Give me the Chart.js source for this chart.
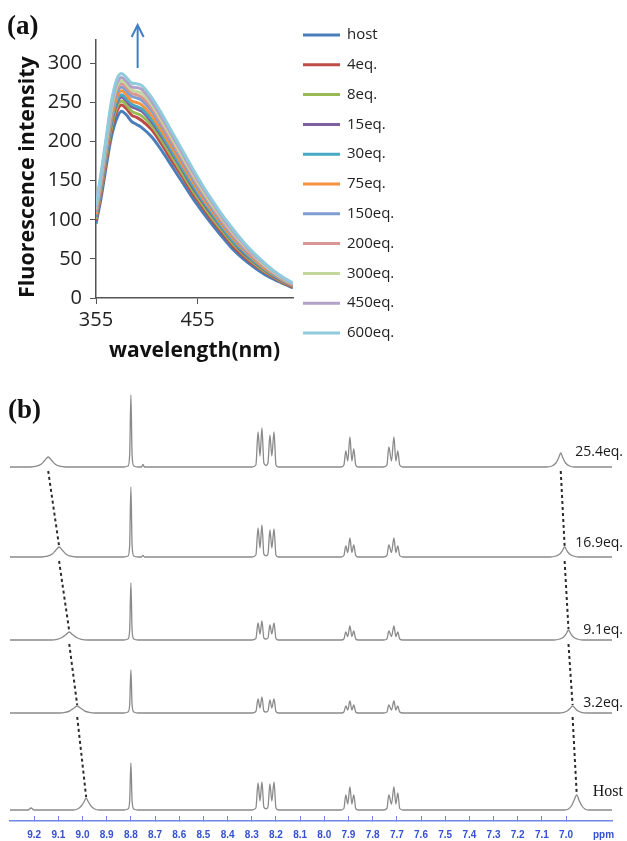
<!DOCTYPE html>
<html><head><meta charset="utf-8">
<script src="https://cdn.jsdelivr.net/npm/chart.js@4/dist/chart.umd.min.js"></script>
<style>
html,body{margin:0;padding:0;background:#fff;width:627px;height:841px;overflow:hidden;position:relative}
#ca{position:absolute;left:0;top:0}
#cb{position:absolute;left:0;top:370px}
.lab{position:absolute;font-family:'Liberation Serif',serif;font-weight:bold;font-size:27px;line-height:27px;color:#111}
</style></head><body>
<canvas id="ca" width="421" height="370"></canvas>
<canvas id="cb" width="627" height="471"></canvas>
<div class="lab" style="left:7px;top:12px">(a)</div>
<div class="lab" style="left:8px;top:396px">(b)</div>
<script>
// ---------- Panel (a): fluorescence titration ----------
const wavelengths = [355,360,365,370,375,380,385,390,395,400,410,420,430,440,450,460,470,480,490,500,510,520,530,540,549];
const seriesNames = ['host','4eq.','8eq.','15eq.','30eq.','75eq.','150eq.','200eq.','300eq.','450eq.','600eq.'];
const hostI  = [95,128,168,205,228,239,234,226,222,218,206,188,168,148,128,110,93,77,62,50,40,31,24,18,13];
const eq4I   = [99,133,174,213,237,247,242,234,231,227,215,196,175,155,134,116,98,82,66,54,43,34,26,19,14];
const eq8I   = [101,137,178,217,242,252,247,239,236,233,220,201,180,159,138,119,101,85,69,56,45,35,27,20,15];
const eq15I  = [104,140,182,222,247,257,252,245,242,239,225,206,185,164,142,123,105,88,72,58,47,37,28,21,15];
const eq30I  = [105,142,184,225,250,260,255,248,245,242,228,209,187,166,145,125,107,89,73,60,48,38,29,22,16];
const eq75I  = [107,145,188,229,255,265,260,252,250,247,233,213,192,170,149,128,110,92,76,62,50,39,30,22,16];
const eq150I = [110,149,192,234,261,270,265,258,256,253,239,219,197,175,153,132,113,95,79,64,52,41,31,23,17];
const eq200I = [112,151,195,238,265,274,269,262,260,257,243,222,200,178,156,135,116,97,81,66,53,42,32,24,17];
const eq300I = [114,154,198,241,269,278,273,266,264,262,247,226,204,181,159,138,118,100,83,68,55,43,33,24,18];
const eq450I = [116,157,201,246,273,282,277,270,269,267,251,230,208,185,162,141,121,102,85,70,56,45,34,25,18];
const eq600I = [118,160,205,250,278,287,282,275,274,272,256,235,212,189,166,144,124,105,88,72,58,46,35,26,19];
const seriesValues = [hostI,eq4I,eq8I,eq15I,eq30I,eq75I,eq150I,eq200I,eq300I,eq450I,eq600I];
const wavelengthTicks = [355,455];

const seriesColors = ['#4A7EBB','#BE4B48','#98B954','#7D60A0','#46AAC5','#F69240','#7F9FD3','#D99694','#C3D69B','#B3A2C7','#8FCBDC'];

const arrowPlugin = {
  id:'arrowA',
  afterDraw(chart){
    const ctx = chart.ctx, x = chart.scales.x.getPixelForValue(396);
    ctx.save();
    ctx.strokeStyle = '#3F7FC8'; ctx.lineWidth = 2;
    ctx.beginPath(); ctx.moveTo(x, 68); ctx.lineTo(x, 27); ctx.stroke();
    ctx.beginPath(); ctx.moveTo(x-6, 37); ctx.lineTo(x, 25); ctx.lineTo(x+6, 37); ctx.stroke();
    ctx.restore();
  }
};

// legend drawn beside the plot from the chart's own datasets
const sideLegend = {
  id:'sideLegend',
  afterDraw(chart){
    const ctx = chart.ctx, x0 = chart.chartArea.right + 10;
    ctx.save();
    ctx.font = '15px "Open Sans"'; ctx.textBaseline = 'middle'; ctx.textAlign = 'left'; ctx.lineCap = 'butt';
    chart.data.datasets.forEach((ds,i)=>{
      const y = 35 + i * 29.8;
      ctx.strokeStyle = ds.borderColor; ctx.lineWidth = 3;
      ctx.beginPath(); ctx.moveTo(x0, y); ctx.lineTo(x0 + 37, y); ctx.stroke();
      ctx.fillStyle = '#222';
      ctx.fillText(ds.label, x0 + 44, y);
    });
    ctx.restore();
  }
};

new Chart(document.getElementById('ca'), {
  type:'line',
  data:{
    datasets: seriesNames.map((n,i)=>({
      label:n,
      data: wavelengths.map((w,j)=>({x:w,y:seriesValues[i][j]})),
      borderColor: seriesColors[i], backgroundColor: seriesColors[i],
      borderWidth: 3, pointRadius:0, cubicInterpolationMode:'monotone',
      order: seriesNames.length - i
    }))
  },
  options:{
    responsive:false, animation:false,
    layout:{padding:{top:40,right:128,bottom:0,left:0}},
    plugins:{legend:{display:false},tooltip:{enabled:false}},
    scales:{
      x:{type:'linear',min:355,max:549,
        afterBuildTicks:s=>{s.ticks = wavelengthTicks.map(v=>({value:v}));},
        afterFit:s=>{s.height = 72;},
        grid:{drawOnChartArea:false,drawTicks:true,tickLength:6,color:'#555'},
        border:{color:'#555',width:1.5},
        ticks:{padding:4,autoSkip:false,maxRotation:0,font:{family:'Open Sans',size:20},color:'#222'},
        title:{display:true,text:'wavelength(nm)',color:'#111',font:{family:'Open Sans',size:21,weight:'bold'},padding:{top:0,bottom:6}}
      },
      y:{type:'linear',min:0,max:330,
        afterFit:s=>{s.width = 96;},
        grid:{drawOnChartArea:false,drawTicks:true,tickLength:6,color:'#555'},
        border:{color:'#555',width:1.5},
        ticks:{stepSize:50,includeBounds:false,padding:8,font:{family:'Open Sans',size:20},color:'#222'},
        title:{display:true,align:'start',text:'Fluorescence intensity',color:'#111',font:{family:'Open Sans',size:21.5,weight:'bold'},padding:{top:15,bottom:0}}
      }
    }
  },
  plugins:[arrowPlugin, sideLegend]
});

// ---------- Panel (b): 1H NMR titration ----------
const nmrTraceNames = ['25.4eq.','16.9eq.','9.1eq.','3.2eq.','Host'];
const trace25 = [[9.30,0],[9.215,0],[9.19,0.8],[9.17,3],[9.155,7],[9.142,10],[9.129,7],[9.114,3],[9.095,0.8],[9.07,0],
  [8.83,0],[8.812,1],[8.805,12],[8.80,72],[8.795,12],[8.788,1],[8.77,0],[8.756,0],[8.75,2.5],[8.744,0],
  [8.30,0],[8.283,2],[8.274,35],[8.266,11],[8.258,39],[8.25,4],[8.241,1.5],[8.233,4],[8.225,32],[8.217,11],[8.208,35],[8.20,2],[8.19,0],
  [7.93,0],[7.919,2],[7.911,16],[7.903,6],[7.894,30],[7.886,6],[7.878,18],[7.87,2],[7.86,0],
  [7.755,0],[7.741,2],[7.733,20],[7.722,6],[7.712,30],[7.704,6],[7.696,16],[7.688,2],[7.675,0],
  [7.08,0],[7.058,1],[7.042,4],[7.031,9],[7.022,14],[7.013,9],[7.002,4],[6.986,1],[6.965,0],[6.81,0]];
const trace16 = [[9.30,0],[9.17,0],[9.145,0.8],[9.125,3],[9.11,7],[9.097,10],[9.084,7],[9.069,3],[9.05,0.8],[9.025,0],
  [8.83,0],[8.812,1],[8.805,12],[8.80,70],[8.795,12],[8.788,1],[8.77,0],[8.756,0],[8.75,1.5],[8.744,0],
  [8.30,0],[8.283,2],[8.274,29],[8.266,9],[8.258,32],[8.25,3],[8.241,1.2],[8.233,3],[8.225,27],[8.217,9],[8.208,28],[8.20,2],[8.19,0],
  [7.93,0],[7.919,1.5],[7.911,11],[7.903,4.5],[7.894,19],[7.886,4.5],[7.878,12],[7.87,1.5],[7.86,0],
  [7.755,0],[7.741,1.5],[7.733,12],[7.722,4.5],[7.712,19],[7.704,4.5],[7.696,11],[7.688,1.5],[7.675,0],
  [7.065,0],[7.042,1],[7.026,3],[7.015,6.5],[7.006,10],[6.997,6.5],[6.986,3],[6.97,1],[6.948,0],[6.81,0]];
const trace9 = [[9.30,0],[9.13,0],[9.105,0.7],[9.085,2.5],[9.068,5.5],[9.055,8],[9.042,5.5],[9.025,2.5],[9.005,0.7],[8.98,0],
  [8.83,0],[8.812,1],[8.805,10],[8.80,57],[8.795,10],[8.788,1],[8.77,0],
  [8.30,0],[8.283,1.5],[8.274,17],[8.266,6],[8.258,19],[8.25,2],[8.241,1],[8.233,2],[8.225,15],[8.217,6],[8.208,17],[8.20,1.5],[8.19,0],
  [7.93,0],[7.919,1],[7.911,8],[7.903,3.5],[7.894,14],[7.886,3.5],[7.878,9],[7.87,1],[7.86,0],
  [7.755,0],[7.741,1],[7.733,9],[7.722,3.5],[7.712,14],[7.704,3.5],[7.696,8],[7.688,1],[7.675,0],
  [7.05,0],[7.026,1],[7.01,3],[6.999,6.5],[6.99,10],[6.981,6.5],[6.97,3],[6.954,1],[6.932,0],[6.81,0]];
const trace3 = [[9.30,0],[9.095,0],[9.072,0.6],[9.052,2.2],[9.035,5],[9.022,7],[9.009,5],[8.992,2.2],[8.972,0.6],[8.95,0],
  [8.83,0],[8.812,1],[8.805,8],[8.80,43],[8.795,8],[8.788,1],[8.77,0],
  [8.30,0],[8.283,1.5],[8.274,14],[8.266,5],[8.258,16],[8.25,2],[8.241,1],[8.233,2],[8.225,13],[8.217,5],[8.208,14],[8.20,1.5],[8.19,0],
  [7.93,0],[7.919,1],[7.911,7],[7.903,3],[7.894,12],[7.886,3],[7.878,8],[7.87,1],[7.86,0],
  [7.755,0],[7.741,1],[7.733,8],[7.722,3],[7.712,12],[7.704,3],[7.696,7],[7.688,1],[7.675,0],
  [7.03,0],[7.009,0.7],[6.994,2.2],[6.983,4.8],[6.973,7],[6.963,4.8],[6.952,2.2],[6.937,0.7],[6.915,0],[6.81,0]];
const traceHost = [[9.30,0],[9.225,0],[9.213,2],[9.20,0],
  [9.04,0],[9.02,1],[9.005,4],[8.994,8],[8.985,12],[8.976,8],[8.965,4],[8.95,1],[8.93,0],
  [8.83,0],[8.812,1],[8.805,9],[8.80,47],[8.795,9],[8.788,1],[8.77,0],
  [8.30,0],[8.283,2],[8.274,27],[8.266,9],[8.258,28],[8.25,3],[8.241,1.2],[8.233,3],[8.225,26],[8.217,9],[8.208,28],[8.20,2],[8.19,0],
  [7.93,0],[7.919,1.5],[7.911,15],[7.903,6],[7.894,23],[7.886,6],[7.878,15],[7.87,1.5],[7.86,0],
  [7.755,0],[7.741,1.5],[7.733,15],[7.722,6],[7.712,23],[7.704,6],[7.696,17],[7.688,1.5],[7.675,0],
  [7.005,0],[6.99,1],[6.978,4],[6.968,9],[6.956,15],[6.945,9],[6.934,4],[6.922,1],[6.905,0],[6.81,0]];
const nmrTraces = [trace25,trace16,trace9,trace3,traceHost];
// chemical shifts (ppm) and heights of the two peaks that move with added guest
const leftShiftPpm = [9.142,9.097,9.055,9.022,8.985];
const leftShiftHeight = [10,10,8,7,12];
const rightShiftPpm = [7.022,7.006,6.99,6.973,6.956];
const rightShiftHeight = [14,10,10,7,15];
const nmrTicks = [9.2,9.1,9.0,8.9,8.8,8.7,8.6,8.5,8.4,8.3,8.2,8.1,8.0,7.9,7.8,7.7,7.6,7.5,7.4,7.3,7.2,7.1,7.0];

const axisIds = ['y1','y2','y3','y4','y5'];
const labelLift = [15,14,10,10,18];

const nmrDecor = {
  id:'nmrDecor',
  afterDatasetsDraw(chart){
    const ctx = chart.ctx, xs = chart.scales.x;
    const ys = axisIds.map(id=>chart.scales[id]);
    ctx.save();
    ctx.strokeStyle = '#2b2b2b'; ctx.lineWidth = 2; ctx.setLineDash([3,3]);
    [[leftShiftPpm,leftShiftHeight],[rightShiftPpm,rightShiftHeight]].forEach(([pp,hh])=>{
      for(let k=0;k<pp.length-1;k++){
        ctx.beginPath();
        ctx.moveTo(xs.getPixelForValue(pp[k]), ys[k].getPixelForValue(0)+4);
        ctx.lineTo(xs.getPixelForValue(pp[k+1]), ys[k+1].getPixelForValue(hh[k+1])-1);
        ctx.stroke();
      }
    });
    ctx.setLineDash([]);
    ctx.fillStyle = '#1a1a1a'; ctx.textAlign = 'right'; ctx.textBaseline = 'middle';
    nmrTraceNames.forEach((n,k)=>{
      ctx.font = k===4 ? '16px "Liberation Serif"' : '14px "Open Sans"';
      ctx.fillText(n, chart.chartArea.right + 11, ys[k].getPixelForValue(labelLift[k]));
    });
    ctx.font = 'bold 10px "Liberation Sans"'; ctx.fillStyle = '#3550D0'; ctx.textAlign = 'center';
    ctx.fillText('ppm', xs.getPixelForValue(6.845), xs.top + 14);
    ctx.restore();
  }
};

const bandRanges = [[-5.2,82],[-2.4,84.8],[-6.6,80.6],[-20.8,66.4],[-11,76.2]];
const nmrScales = {
  x:{type:'linear',reverse:true,min:6.81,max:9.30,
    afterBuildTicks:s=>{s.ticks = nmrTicks.map(v=>({value:v}));},
    afterFit:s=>{s.height = 20;},
    grid:{drawOnChartArea:false,drawTicks:true,tickLength:-5,color:'#6F86E6',lineWidth:1},
    border:{color:'#6F86E6',width:1.5},
    ticks:{padding:13,autoSkip:false,maxRotation:0,font:{family:'Liberation Sans',size:10,weight:'bold'},color:'#3550D0',
      callback:v=>Number(v).toFixed(1)}
  }
};
// left-side boxes are laid out in reverse insertion order, so add the bottom trace's axis first
for (let k = axisIds.length - 1; k >= 0; k--) {
  nmrScales[axisIds[k]] = {type:'linear',display:false,position:'left',stack:'nmr',stackWeight:1,
    min:bandRanges[k][0],max:bandRanges[k][1]};
}

new Chart(document.getElementById('cb'), {
  type:'line',
  data:{
    datasets: nmrTraces.map((t,k)=>({
      label: nmrTraceNames[k],
      data: t.map(p=>({x:p[0],y:p[1]})),
      yAxisID: axisIds[k],
      borderColor:'#8A8A8A', borderWidth:1.3, pointRadius:0,
      cubicInterpolationMode:'monotone'
    }))
  },
  options:{
    responsive:false, animation:false,
    layout:{padding:{top:15,right:15,bottom:0,left:10}},
    plugins:{legend:{display:false},tooltip:{enabled:false}},
    scales: nmrScales
  },
  plugins:[nmrDecor]
});
</script>
</body></html>
